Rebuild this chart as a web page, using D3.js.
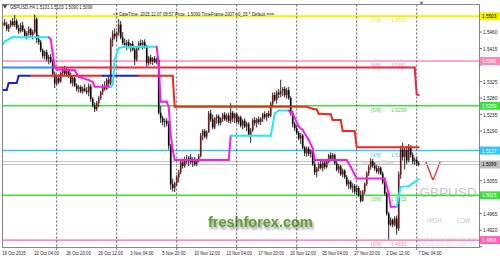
<!DOCTYPE html>
<html lang="en">
<head>
<meta charset="UTF-8">
<title>GBPUSD,H4</title>
<script src="https://d3js.org/d3.v7.min.js"></script>
<style>
  body { margin: 0; background: #fff; }
  svg { display: block; font-family: Arial, "Liberation Sans", sans-serif; }
</style>
</head>
<body>
<div id="chart"></div>
<script>
// ---------- data ----------
// bar index 0 = 19 Oct 2015 00:00, 6 bars a day, 30 bars a week
const firstBar = 3;
// [open, high, low, close] in pips (price * 10000), bars 3 .. 211
const candles = [
  [15478,15490,15470,15485],[15485,15495,15476,15480],[15480,15488,15462,15468],[15468,15482,15460,15478],
  [15478,15492,15472,15489],[15489,15498,15475,15479],[15479,15506,15474,15490],[15490,15496,15466,15470],
  [15470,15480,15455,15462], // 11
  [15462,15485,15458,15478],[15478,15488,15460,15465],[15465,15470,15445,15450],[15450,15462,15440,15457],
  [15457,15475,15450,15468],[15468,15472,15446,15452],[15452,15466,15440,15460], // 18
  [15460,15508,15455,15495],[15495,15500,15430,15440],[15440,15452,15425,15432], // 21
  [15432,15438,15405,15410],[15410,15415,15388,15395],[15395,15410,15385,15405],[15405,15412,15380,15386],
  [15386,15398,15372,15392],[15392,15400,15375,15380], // 27
  [15380,15385,15340,15345],[15345,15352,15307,15320],[15320,15340,15315,15335],[15335,15345,15318,15325], // 31
  [15325,15352,15322,15348],[15348,15365,15340,15358],[15358,15368,15342,15346],[15346,15362,15338,15355],
  [15355,15360,15335,15340], // 36
  [15340,15350,15318,15322],[15322,15340,15312,15335],[15335,15338,15310,15314], // 39
  [15314,15320,15298,15305],[15305,15316,15295,15310],[15310,15315,15294,15298],[15298,15312,15292,15306],
  [15306,15318,15296,15300],[15300,15310,15290,15296], // 45
  [15296,15320,15285,15312],[15312,15318,15270,15278], // 47
  [15278,15282,15255,15260],[15260,15268,15242,15250],[15250,15272,15245,15266],[15266,15285,15256,15280], // 51
  [15280,15300,15275,15296],[15296,15318,15288,15312],[15312,15326,15300,15305], // 54
  [15305,15335,15302,15330],[15330,15340,15312,15320], // 56
  [15320,15445,15315,15438],[15438,15465,15420,15455],[15455,15470,15440,15448],[15448,15462,15435,15458],
  [15458,15495,15450,15480],[15480,15490,15440,15445],[15445,15460,15425,15430],[15430,15442,15418,15425], // 64
  [15425,15438,15410,15432],[15432,15440,15415,15420],[15420,15430,15405,15428],[15428,15436,15408,15412],
  [15412,15418,15370,15385],[15385,15420,15380,15415], // 70
  [15415,15435,15410,15430],[15430,15440,15418,15425],[15425,15438,15412,15432],[15432,15440,15415,15420],
  [15420,15425,15365,15375],[15375,15395,15368,15390],[15390,15398,15372,15380],[15380,15392,15370,15388],
  [15388,15395,15375,15378],[15378,15390,15372,15384], // 80
  [15384,15390,15235,15240],[15240,15258,15212,15225],[15225,15232,15205,15215],[15215,15225,15200,15218],
  [15218,15225,15203,15210],[15210,15218,15140,15150],[15150,15155,15030,15045],[15045,15060,15025,15035],
  [15035,15052,15024,15048], // 89
  [15048,15070,15040,15065],[15065,15085,15050,15078],[15078,15110,15072,15105],[15105,15115,15088,15095],
  [15095,15120,15090,15114], // 94
  [15114,15125,15100,15108],[15108,15122,15095,15118],[15118,15128,15100,15105],[15105,15118,15092,15112],
  [15112,15120,15095,15100],[15100,15115,15094,15110],[15110,15128,15105,15122], // 101
  [15122,15185,15118,15178],[15178,15195,15165,15190],[15190,15196,15170,15175],[15175,15192,15168,15188],
  [15188,15245,15185,15238],[15238,15248,15215,15222],[15222,15235,15195,15200],[15200,15228,15195,15225], // 109
  [15225,15236,15210,15230],[15230,15235,15205,15212],[15212,15228,15206,15224],[15224,15240,15215,15235],
  [15235,15242,15218,15222],[15222,15238,15215,15232],[15232,15240,15212,15218],[15218,15266,15210,15240],
  [15240,15245,15215,15225],[15225,15240,15212,15236], // 119
  [15236,15240,15210,15215],[15215,15232,15208,15228],[15228,15232,15200,15205],[15205,15222,15195,15218],
  [15218,15225,15198,15202],[15202,15215,15190,15210],[15210,15214,15175,15180],[15180,15198,15158,15192], // 127
  [15192,15225,15188,15220],[15220,15228,15205,15212],[15212,15226,15200,15222],[15222,15230,15208,15215],
  [15215,15228,15206,15224],[15224,15240,15215,15236],[15236,15244,15222,15228],[15228,15240,15218,15238],
  [15238,15246,15225,15232], // 136
  [15232,15270,15228,15265],[15265,15295,15258,15288],[15288,15296,15270,15275],[15275,15300,15265,15295],
  [15295,15305,15280,15290],[15290,15330,15282,15300],[15300,15310,15285,15305],[15305,15312,15282,15288],
  [15288,15308,15278,15302],[15302,15310,15275,15280], // 146
  [15280,15285,15232,15238],[15238,15245,15200,15210],[15210,15215,15190,15198],[15198,15205,15180,15185],
  [15185,15190,15165,15170],[15170,15185,15155,15178],[15178,15182,15140,15145],[15145,15150,15122,15130],
  [15130,15148,15120,15142],[15142,15148,15122,15128],[15128,15140,15118,15136], // 157
  [15136,15140,15095,15100],[15100,15108,15070,15078],[15078,15092,15065,15088],[15088,15105,15080,15100],
  [15100,15112,15085,15090],[15090,15108,15080,15104],[15104,15110,15086,15092],[15092,15112,15088,15108],
  [15108,15128,15102,15124],[15124,15132,15108,15115],[15115,15130,15110,15125],[15125,15128,15098,15102],
  [15102,15110,15080,15085], // 170
  [15085,15100,15075,15094],[15094,15098,15068,15072],[15072,15088,15065,15082],[15082,15086,15060,15065],
  [15065,15070,15040,15045],[15045,15058,15032,15052],[15052,15056,15030,15036],[15036,15048,15022,15040],
  [15040,15046,15018,15025],[15025,15042,15016,15035],[15035,15040,15010,15015],[15015,15028,14995,15000],
  [15000,15030,14998,15025], // 183
  [15025,15050,15018,15046],[15046,15080,15040,15075],[15075,15098,15068,15092],[15092,15116,15085,15108],
  [15108,15114,15090,15096],[15096,15105,15082,15088],[15088,15098,15075,15080],[15080,15095,15072,15090],
  [15090,15094,15070,15074],[15074,15080,15045,15050],[15050,15056,15015,15020], // 194
  [15020,15025,14960,14965],[14965,14970,14895,14935],[14935,14955,14930,14948],[14948,14952,14928,14935],
  [14935,14958,14930,14952],[14952,14960,14908,14925],[14925,15080,14918,15072],[15072,15150,15060,15140],
  [15140,15158,15110,15120],[15120,15145,15085,15138],[15138,15150,15100,15110],[15110,15155,15105,15145],
  [15145,15152,15118,15125],[15125,15132,15100,15108],[15108,15118,15098,15112],[15112,15120,15095,15102],
  [15102,15108,15094,15099] // 211
];

// stop lines: [bar, pips, trend]; a segment takes the trend of its end point
const upperStop = [[3,15363,"up"],[29,15363,"up"],[209,15363,"dn"],[210,15290,"dn"],[211,15288,"dn"]];
const lowerStop = [[3,15302,"up"],[5,15302,"up"],[6,15321,"up"],[10,15321,"up"],[11,15341,"up"],
  [17,15341,"up"],[53,15341,"dn"],[71,15341,"up"],[88,15341,"dn"],[89,15256,"dn"],[155,15256,"dn"],
  [158,15251,"dn"],[160,15249,"dn"],[161,15237,"dn"],[167,15236,"dn"],[168,15220,"dn"],[172,15220,"dn"],
  [173,15190,"dn"],[179,15190,"dn"],[180,15146,"dn"],[211,15146,"dn"]];
const channel = [[3,15425,"up"],[4,15434,"up"],[7,15443,"up"],[8,15446,"up"],[26,15446,"up"],
  [27,15440,"dn"],[28,15402,"dn"],[29,15365,"dn"],[30,15358,"dn"],[39,15356,"dn"],[41,15338,"dn"],
  [46,15329,"dn"],[48,15324,"dn"],[49,15311,"dn"],[57,15311,"dn"],[58,15316,"up"],[59,15384,"up"],
  [61,15416,"up"],[64,15420,"up"],[80,15420,"up"],[81,15370,"dn"],[82,15270,"dn"],[85,15270,"dn"],
  [86,15256,"dn"],[87,15180,"dn"],[88,15138,"dn"],[89,15111,"dn"],[116,15111,"dn"],[117,15177,"dn"],
  [118,15177,"up"],[137,15177,"up"],[138,15205,"up"],[139,15238,"up"],[141,15246,"up"],[146,15246,"up"],
  [147,15240,"dn"],[148,15238,"dn"],[151,15202,"dn"],[153,15193,"dn"],[156,15166,"dn"],[158,15143,"dn"],
  [159,15111,"dn"],[175,15111,"dn"],[177,15093,"dn"],[180,15061,"dn"],[194,15061,"dn"],[196,15020,"dn"],
  [197,14984,"dn"],[200,14984,"dn"],[201,15011,"up"],[202,15038,"up"],[206,15040,"up"],[208,15048,"up"],
  [211,15059,"up"]];

// Murrey math levels
const levelNames = ["[7/8]", "[6/8]", "[5/8]", "[4/8]", "[3/8]", "[2/8]"];
const levelValues = [1.5503, 1.5381, 1.5259, 1.5137, 1.5015, 1.4893];
const bidValues = [1.5107, 1.5099];
const lastPrice = 1.5099;

const priceTicks = [1.5460, 1.5415, 1.5370, 1.5325, 1.5280, 1.5235, 1.5190, 1.5145, 1.5100, 1.5055, 1.5010, 1.4965, 1.4920, 1.4875];
const timeLabels = ["19 Oct 2015", "22 Oct 04:00", "26 Oct 20:00", "29 Oct 12:00", "3 Nov 04:00", "5 Nov 20:00",
  "10 Nov 12:00", "13 Nov 04:00", "17 Nov 20:00", "20 Nov 12:00", "25 Nov 04:00", "27 Nov 20:00", "2 Dec 12:00", "7 Dec 04:00"];
const timeLabelBars = [3, 19, 35, 51, 67, 83, 99, 115, 131, 147, 163, 179, 195, 211];
const weekStartBars = [30, 60, 90, 120, 150, 180, 210];

// ---------- layout ----------
const W = 500, H = 259;
const plot = { left: 2.5, right: 479.5, top: 4.5, bottom: 247.5 };

const x = d3.scaleLinear().domain([0, 211]).range([-3.3, 418.7]);
const y = d3.scaleLinear().domain([1.4875, 1.5460]).range([246.7, 32]);
const yp = p => y(p / 10000);

const levelColors = ["#f2f200", "#ff86b8", "#3ee03e", "#33c6f6", "#3ee03e", "#ff62b6"];
const levelText = ["#e6e640", "#ff8cbe", "#4fd64f", "#55c0f0", "#4fd64f", "#ff7cbe"];
const levelLabelText = ["#000", "#fff", "#fff", "#fff", "#fff", "#fff"];

const svg = d3.select("#chart").append("svg")
  .attr("width", W).attr("height", H);

const defs = svg.append("defs");
defs.append("clipPath").attr("id", "clip")
  .append("rect")
  .attr("x", plot.left).attr("y", plot.top)
  .attr("width", plot.right - plot.left).attr("height", plot.bottom - plot.top);
defs.append("filter").attr("id", "shadow")
  .attr("x", "-10%").attr("y", "-30%").attr("width", "130%").attr("height", "180%")
  .append("feDropShadow")
  .attr("dx", 1.5).attr("dy", 2.5).attr("stdDeviation", 1.2)
  .attr("flood-color", "#777").attr("flood-opacity", 0.8);

svg.append("rect").attr("width", W).attr("height", H).attr("fill", "#fff");

// small text, narrowed like the terminal font
function label(g, px, py, text, size, color, sx, anchor) {
  return g.append("text")
    .attr("transform", `translate(${px},${py}) scale(${sx},1)`)
    .attr("font-size", size)
    .attr("fill", color)
    .attr("text-anchor", anchor || "start")
    .text(text);
}

const g = svg.append("g").attr("clip-path", "url(#clip)");

// watermark and objects behind the bars
g.append("text")
  .attr("x", 208).attr("y", 227)
  .attr("font-size", 14.5).attr("font-weight", "bold")
  .attr("fill", "#5f9f2a")
  .attr("filter", "url(#shadow)")
  .text("freshforex.com");

g.append("text")
  .attr("x", 419.5).attr("y", 197)
  .attr("font-size", 13.5).attr("fill", "#c6c6c6")
  .text("GBPUSD");

label(g, 427, 223, "HIGH", 6.5, "#c6c6c6", 0.9);
label(g, 457, 223, "LOW", 6.5, "#c6c6c6", 0.9);
label(g, 417, 245.5, "2015.12.07 08:57", 10, "#dadada", 0.76);

g.append("text")
  .attr("x", 424.5).attr("y", 179.5)
  .attr("font-size", 25).attr("font-weight", 200)
  .attr("font-family", "'DejaVu Sans', sans-serif")
  .attr("fill", "#ee1c1c")
  .text("V");

// bid lines
g.selectAll(".bid").data(bidValues).enter().append("line")
  .attr("x1", plot.left).attr("x2", plot.right)
  .attr("y1", d => y(d)).attr("y2", d => y(d))
  .attr("stroke", "#c4c4c4").attr("stroke-width", 1);
label(g, 360, 164, "Yesterday Close", 5.5, "#c8c8c8", 0.85);

// level lines
g.selectAll(".level").data(levelValues).enter().append("line")
  .attr("x1", plot.left).attr("x2", plot.right)
  .attr("y1", d => y(d)).attr("y2", d => y(d))
  .attr("stroke", (d, i) => levelColors[i])
  .attr("stroke-width", (d, i) => i === 0 ? 2 : 1.4);

levelValues.forEach((v, i) => {
  label(g, 371, y(v) + 6, levelNames[i], 6, levelText[i], 0.85);
  label(g, 391, y(v) + 6, v.toFixed(4), 6, levelText[i], 0.85);
});

// weekly separators
g.selectAll(".sep").data(weekStartBars).enter().append("line")
  .attr("x1", d => x(d)).attr("x2", d => x(d))
  .attr("y1", plot.top).attr("y2", plot.bottom)
  .attr("stroke", "#333").attr("stroke-width", 0.8)
  .attr("stroke-dasharray", "2,2");

// candles
const bars = candles.map((c, i) => ({ bar: firstBar + i, o: c[0], h: c[1], l: c[2], c: c[3] }));
g.selectAll(".wick").data(bars).enter().append("line")
  .attr("x1", d => x(d.bar)).attr("x2", d => x(d.bar))
  .attr("y1", d => yp(d.h)).attr("y2", d => yp(d.l))
  .attr("stroke", "#111").attr("stroke-width", 0.9);
g.selectAll(".body").data(bars).enter().append("rect")
  .attr("x", d => x(d.bar) - 0.8)
  .attr("width", 1.6)
  .attr("y", d => yp(Math.max(d.o, d.c)))
  .attr("height", d => Math.max(0.8, Math.abs(yp(d.o) - yp(d.c))))
  .attr("fill", d => d.c >= d.o ? "#7c1414" : "#000");

// indicator lines, one segment per pair of points
function drawSegments(pts, upColor, dnColor, width) {
  const segs = d3.pairs(pts);
  g.selectAll(null).data(segs).enter().append("line")
    .attr("x1", d => x(d[0][0])).attr("y1", d => yp(d[0][1]))
    .attr("x2", d => x(d[1][0])).attr("y2", d => yp(d[1][1]))
    .attr("stroke", d => d[1][2] === "up" ? upColor : dnColor)
    .attr("stroke-width", width)
    .attr("stroke-linecap", "round");
}
drawSegments(upperStop, "#2e8ef0", "#e42a44", 2);
drawSegments(lowerStop, "#1a22d8", "#f02a20", 2);
drawSegments(channel, "#22eaf8", "#ff18f0", 2);

// frame
svg.append("rect")
  .attr("x", plot.left).attr("y", plot.top)
  .attr("width", plot.right - plot.left).attr("height", plot.bottom - plot.top)
  .attr("fill", "none").attr("stroke", "#6a6a6a").attr("stroke-width", 0.8);

// price axis; ticks under a coloured price box are hidden
const boxValues = levelValues.concat([lastPrice]);
const axisG = svg.append("g");
priceTicks.forEach(p => {
  axisG.append("line")
    .attr("x1", plot.right).attr("x2", plot.right + 2.5)
    .attr("y1", y(p)).attr("y2", y(p))
    .attr("stroke", "#333").attr("stroke-width", 0.7);
  const covered = boxValues.some(v => Math.abs(y(v) - y(p)) < 7.5);
  if (!covered) label(axisG, 483, y(p) + 2, p.toFixed(4), 6, "#222", 0.78);
});
levelValues.forEach((v, i) => {
  axisG.append("rect")
    .attr("x", 480).attr("y", y(v) - 4)
    .attr("width", 20).attr("height", 8)
    .attr("fill", levelColors[i]);
  label(axisG, 482, y(v) + 2, v.toFixed(4), 6, levelLabelText[i], 0.78);
});
axisG.append("rect")
  .attr("x", 480).attr("y", y(lastPrice) - 4)
  .attr("width", 20).attr("height", 8)
  .attr("fill", "#bdbdbd");
label(axisG, 482, y(lastPrice) + 2, lastPrice.toFixed(4), 6, "#000", 0.78);

// time axis
weekStartBars.forEach(b => {
  svg.append("line")
    .attr("x1", x(b)).attr("x2", x(b))
    .attr("y1", plot.bottom).attr("y2", plot.bottom + 2.5)
    .attr("stroke", "#333").attr("stroke-width", 0.7);
});
timeLabels.forEach((t, i) => {
  label(svg, x(timeLabelBars[i]) - 0.5, 255, t, 6, "#222", 0.72);
});

// header
svg.append("path")
  .attr("d", d3.symbol(d3.symbolTriangle, 9)())
  .attr("transform", "translate(5,6) rotate(180)")
  .attr("fill", "#444");
label(svg, 10, 8.5, "GBPUSD,H4  1.5101 1.5103 1.5090 1.5099", 6, "#222", 0.72);
label(svg, 113, 15.5, "<=  DateTime: 2015.12.07 08:57    Price: 1.5099    TimeFrame-2007-v0_05    *  Default ===", 6, "#222", 0.72);
svg.append("path")
  .attr("d", d3.symbol(d3.symbolTriangle, 7)())
  .attr("transform", "translate(421.5,3) rotate(180)")
  .attr("fill", "#777");
</script>
</body>
</html>
